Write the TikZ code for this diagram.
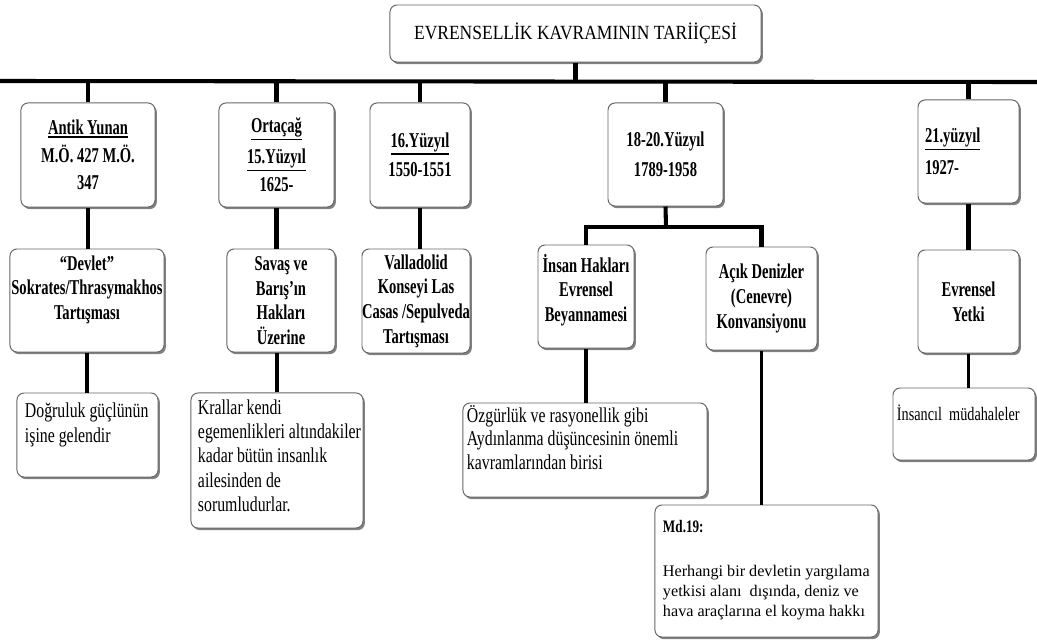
\documentclass[tikz,border=0pt]{standalone}
\usepackage{fontspec}
\setmainfont{Liberation Serif}
\newfontfamily\darfont{Liberation Serif}[FakeStretch=0.75]
\newfontfamily\dardarfont{Liberation Serif}[FakeStretch=0.69]
\newfontfamily\baslikfont{Liberation Serif}[FakeStretch=0.87]
\newcommand{\altciz}[1]{\leavevmode\vtop{\hbox{#1}\kern1pt\hrule height 1.1pt}}
\usetikzlibrary{shadows}
\tikzset{
  kutu/.style={draw=black!60, line width=0.7pt, rounded corners=5pt, fill=white, inner sep=0pt,
    drop shadow={shadow xshift=1.3pt, shadow yshift=-1.5pt, opacity=0.7, fill=black!70}},
  baslikkutu/.style={kutu, font=\baslikfont\fontsize{14.3}{17}\selectfont},
  donem/.style={kutu, align=center, font=\dardarfont\bfseries\fontsize{15}{19}\selectfont},
  konu/.style={kutu, align=center, font=\dardarfont\bfseries\fontsize{15}{17.5}\selectfont},
  aciklama/.style={kutu, font=\darfont\fontsize{15}{18.4}\selectfont},
  kalin/.style={line width=2.9pt},
  cizgi/.style={line width=2.3pt}
}
\begin{document}
\begin{tikzpicture}[x=0.025cm, y=-0.025cm]
\useasboundingbox (0,0) rectangle (1037,639);
% baslik
\node[baslikkutu, minimum width=9.275cm, minimum height=1.425cm] (baslik) at (575.5,33.5) {EVRENSELLİK KAVRAMININ TARİİÇESİ};
% donemler
\node[donem, minimum width=3.35cm, minimum height=2.6cm] (antik) at (88,155) {\altciz{Antik Yunan}\\[1pt]M.Ö. 427 M.Ö.\\347};
\node[donem, minimum width=2.875cm, minimum height=2.6cm] (ortacag) at (276.5,155) {\altciz{Ortaçağ}\\[3pt]\altciz{15.Yüzyıl}\\[1pt]1625-};
\node[donem, minimum width=2.5cm, minimum height=2.6cm] (yy16) at (420,155) {\altciz{16.Yüzyıl}\\[2pt]1550-1551};
\node[donem, minimum width=2.875cm, minimum height=2.575cm] (yy1820) at (665.5,154.5) {18-20.Yüzyıl\\[2pt]1789-1958};
\node[donem, minimum width=2.525cm, minimum height=2.575cm, text width=2.175cm, align=left] (yy21) at (968.5,151.5) {\altciz{21.yüzyıl}\\[4pt]1927-};
% konular
\node[konu, minimum width=3.85cm, minimum height=2.575cm] (devlet) at (87,300.5) {\raisebox{4pt}[0pt][0pt]{\begin{tabular}{@{}c@{}}“Devlet”\\Sokrates/Thrasymakhos\\Tartışması\end{tabular}}};
\node[konu, minimum width=2.7cm, minimum height=2.575cm] (savas) at (281,300.5) {Savaş ve\\Barış’ın\\Hakları\\Üzerine};
\node[konu, minimum width=2.7cm, minimum height=2.6cm] (valla) at (416,301) {Valladolid\\Konseyi Las\\Casas /Sepulveda\\Tartışması};
\node[konu, minimum width=2.4cm, minimum height=2.575cm] (insan) at (586,296.5) {\raisebox{0pt}[0pt][0pt]{\begin{tabular}{@{}c@{}}İnsan Hakları\\Evrensel\\Beyannamesi\end{tabular}}};
\node[konu, minimum width=2.775cm, minimum height=2.575cm] (acik) at (761.5,298.5) {Açık Denizler\\(Cenevre)\\Konvansiyonu};
\node[konu, minimum width=2.525cm, minimum height=2.575cm] (yetki) at (968.5,301.5) {Evrensel\\Yetki};
% aciklamalar
\node[aciklama, minimum width=3.525cm, minimum height=2.1cm] (dogru) at (87.5,435) {\parbox[c][1.8cm][t]{3.125cm}{\begin{tabular}[t]{@{}l@{}}Doğruluk güçlünün\\işine gelendir\end{tabular}}};
\node[aciklama, font=\darfont\fontsize{15}{17.3}\selectfont, minimum width=4.3cm, minimum height=3.375cm] (krallar) at (277,460.5) {\parbox[c][3.175cm][t]{3.95cm}{\begin{tabular}[t]{@{}l@{}}Krallar kendi\\egemenlikleri altındakiler\\kadar bütün insanlık\\ailesinden de\\sorumludurlar.\end{tabular}}};
\node[aciklama, font=\darfont\fontsize{15}{17}\selectfont, minimum width=6.1cm, minimum height=2.35cm] (ozgur) at (585,450) {\parbox[c][2.25cm][t]{5.9cm}{\begin{tabular}[t]{@{}l@{}}Özgürlük ve rasyonellik gibi\\Aydınlanma düşüncesinin önemli\\kavramlarından birisi\end{tabular}}};
\node[aciklama, font=\darfont\fontsize{13.5}{16}\selectfont, minimum width=3.55cm, minimum height=1.8cm] (insanci) at (964,424) {\parbox[c][0.95cm][t]{3.35cm}{\begin{tabular}[t]{@{}l@{}}İnsancıl\ \ müdahaleler\end{tabular}}};
\node[aciklama, font=\fontsize{11.5}{14.2}\selectfont, minimum width=5.575cm, minimum height=3.3cm] (md19) at (766.5,571) {\parbox[c][2.6cm][t]{5.175cm}{\begin{tabular}[t]{@{}l@{}}{\darfont\bfseries\fontsize{12.5}{15}\selectfont Md.19:}\\[17pt]Herhangi bir devletin yargılama\\yetkisi alanı\ \ dışında, deniz ve\\hava araçlarına el koyma hakkı\end{tabular}}};
% baglantilar
\coordinate (solUc) at (0,81);
\coordinate (sagUc) at (1037,82);
\coordinate (catal) at (666,227);
\draw[kalin] (solUc) -- (sagUc);
\draw[kalin] (baslik.south) -- (baslik.south |- solUc);
\draw[kalin] (antik.north) -- (antik.north |- solUc);
\draw[kalin] (ortacag.north) -- (ortacag.north |- solUc);
\draw[kalin] (yy16.north) -- (yy16.north |- solUc);
\draw[kalin] (yy1820.north) -- (yy1820.north |- solUc);
\draw[kalin] (yy21.north) -- (yy21.north |- solUc);
\draw[kalin] (antik.south) -- (antik.south |- devlet.north);
\draw[kalin] (ortacag.south) -- (ortacag.south |- savas.north);
\draw[kalin] (yy16.south) -- (yy16.south |- valla.north);
\draw[kalin] (yy1820.south) -- (catal);
\draw[kalin] (insan.north) |- (catal) -| (acik.north);
\draw[kalin] (yy21.south) -- (yy21.south |- yetki.north);
\draw[cizgi] (devlet.south) -- (devlet.south |- dogru.north);
\draw[cizgi] (krallar.north) -- (krallar.north |- savas.south);
\draw[cizgi] (insan.south) -- (insan.south |- ozgur.north);
\draw[cizgi] (acik.south) -- (acik.south |- md19.north);
\draw[cizgi] (yetki.south) -- (yetki.south |- insanci.north);
\end{tikzpicture}
\end{document}
